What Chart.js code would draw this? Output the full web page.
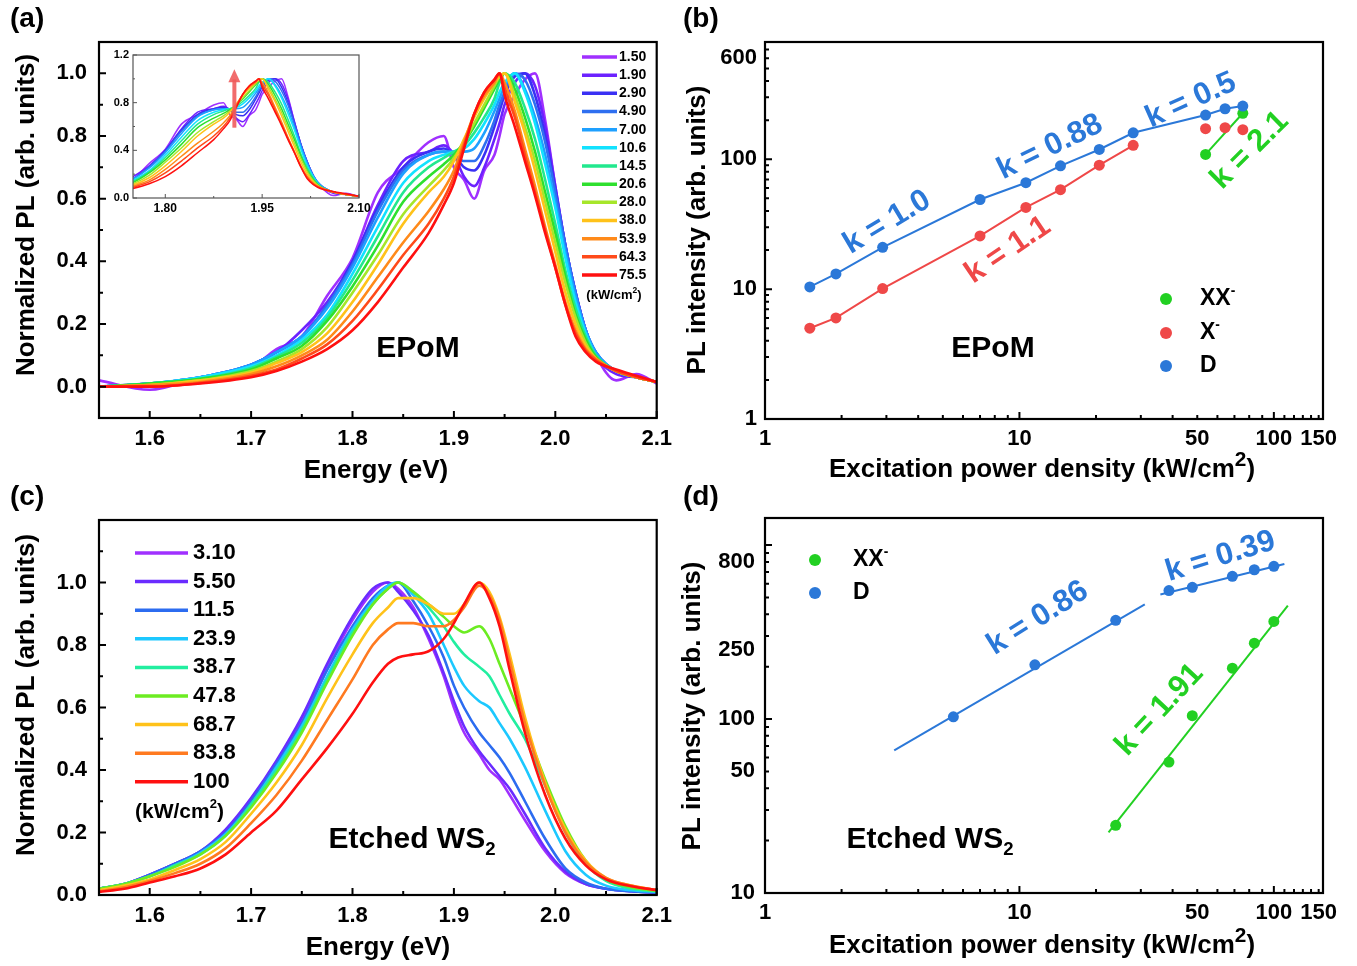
<!DOCTYPE html>
<html>
<head>
<meta charset="utf-8">
<script src="https://cdn.jsdelivr.net/npm/chart.js@4.4.1/dist/chart.umd.min.js"></script>
<style>
  body { margin: 0; background: #fff; }
  #fig { position: relative; width: 1357px; height: 966px; font-family: "Liberation Sans", Arial, sans-serif; }
  #fig canvas { position: absolute; }
  .tag { position: absolute; font-weight: bold; font-size: 28px; line-height: 30px; color: #000; }
</style>
</head>
<body>
<div id="fig">
  <canvas id="chartA" width="680" height="490" style="left:0;top:0"></canvas>
  <canvas id="chartInset" width="290" height="180" style="left:100px;top:44px"></canvas>
  <canvas id="chartB" width="677" height="490" style="left:680px;top:0"></canvas>
  <canvas id="chartC" width="680" height="476" style="left:0;top:490px"></canvas>
  <canvas id="chartD" width="677" height="476" style="left:680px;top:490px"></canvas>
  <div class="tag" style="left:10px;top:3px">(a)</div>
  <div class="tag" style="left:683px;top:3px">(b)</div>
  <div class="tag" style="left:10px;top:481px">(c)</div>
  <div class="tag" style="left:683px;top:481px">(d)</div>
</div>
<script>
const FAMILY = '"Liberation Sans", Arial, Helvetica, sans-serif'

// ---------- (a) EPoM spectra, power in kW/cm2 ----------
const energyA = [1.55, 1.60, 1.65, 1.70, 1.725, 1.75, 1.775, 1.80, 1.825, 1.85, 1.875, 1.89, 1.90, 1.91, 1.92, 1.93, 1.94, 1.945, 1.95, 1.96, 1.97, 1.98, 1.99, 2.00, 2.01, 2.02, 2.03, 2.04, 2.06, 2.08, 2.10]
const powersA = ['1.50', '1.90', '2.90', '4.90', '7.00', '10.6', '14.5', '20.6', '28.0', '38.0', '53.9', '64.3', '75.5']
const colorsA = ['#a030ff', '#6c22ff', '#3a30f4', '#2f6ff0', '#1ea0ff', '#12e2ff', '#22e88e', '#2ee02e', '#a6e62a', '#ffc21a', '#ff8a1a', '#ff4a1a', '#ff1010']

const plA_150 = [0.02, -0.01, 0.03, 0.06, 0.12, 0.16, 0.29, 0.41, 0.62, 0.70, 0.78, 0.80, 0.70, 0.66, 0.60, 0.69, 0.74, 0.80, 0.87, 0.93, 0.98, 1.00, 0.85, 0.64, 0.45, 0.30, 0.18, 0.10, 0.02, 0.04, 0.01]
const plA_190 = [0.00, 0.01, 0.02, 0.07, 0.11, 0.18, 0.27, 0.40, 0.58, 0.72, 0.75, 0.77, 0.74, 0.67, 0.64, 0.70, 0.79, 0.84, 0.90, 0.97, 1.00, 0.96, 0.83, 0.64, 0.45, 0.30, 0.18, 0.10, 0.04, 0.03, 0.015]
const plA_290 = [0.00, 0.01, 0.03, 0.07, 0.11, 0.16, 0.26, 0.40, 0.57, 0.70, 0.75, 0.76, 0.74, 0.70, 0.69, 0.74, 0.83, 0.88, 0.93, 0.99, 1.00, 0.93, 0.80, 0.63, 0.45, 0.30, 0.18, 0.11, 0.05, 0.03, 0.015]
const plA_490 = [0.00, 0.01, 0.03, 0.07, 0.11, 0.16, 0.26, 0.39, 0.56, 0.69, 0.74, 0.75, 0.74, 0.72, 0.72, 0.77, 0.85, 0.90, 0.94, 1.00, 0.98, 0.90, 0.78, 0.62, 0.45, 0.30, 0.18, 0.11, 0.05, 0.03, 0.015]
const plA_700 = [0.00, 0.01, 0.03, 0.07, 0.11, 0.16, 0.25, 0.38, 0.54, 0.68, 0.74, 0.75, 0.75, 0.75, 0.76, 0.81, 0.88, 0.92, 0.96, 1.00, 0.95, 0.86, 0.74, 0.59, 0.43, 0.29, 0.18, 0.11, 0.05, 0.03, 0.015]
const plA_106 = [0.00, 0.01, 0.03, 0.065, 0.10, 0.15, 0.23, 0.36, 0.51, 0.65, 0.72, 0.74, 0.75, 0.76, 0.79, 0.84, 0.90, 0.94, 0.97, 1.00, 0.94, 0.84, 0.71, 0.57, 0.41, 0.27, 0.17, 0.10, 0.05, 0.03, 0.015]
const plA_145 = [0.00, 0.01, 0.025, 0.06, 0.095, 0.14, 0.22, 0.34, 0.48, 0.62, 0.70, 0.73, 0.75, 0.77, 0.81, 0.86, 0.92, 0.97, 1.00, 0.97, 0.89, 0.79, 0.66, 0.52, 0.37, 0.25, 0.16, 0.10, 0.05, 0.03, 0.015]
const plA_206 = [0.00, 0.01, 0.025, 0.055, 0.09, 0.13, 0.21, 0.32, 0.45, 0.59, 0.67, 0.71, 0.74, 0.78, 0.83, 0.89, 0.95, 0.98, 1.00, 0.95, 0.86, 0.75, 0.62, 0.49, 0.35, 0.23, 0.15, 0.095, 0.05, 0.03, 0.015]
const plA_280 = [0.00, 0.005, 0.02, 0.05, 0.08, 0.12, 0.19, 0.30, 0.42, 0.55, 0.64, 0.69, 0.73, 0.78, 0.84, 0.90, 0.96, 0.99, 1.00, 0.93, 0.83, 0.72, 0.59, 0.46, 0.33, 0.22, 0.14, 0.09, 0.05, 0.03, 0.015]
const plA_380 = [0.00, 0.005, 0.02, 0.045, 0.075, 0.11, 0.17, 0.27, 0.39, 0.52, 0.62, 0.67, 0.72, 0.79, 0.86, 0.92, 0.97, 0.99, 1.00, 0.91, 0.81, 0.69, 0.56, 0.43, 0.30, 0.20, 0.13, 0.09, 0.05, 0.03, 0.015]
const plA_539 = [0.00, 0.005, 0.015, 0.04, 0.065, 0.10, 0.15, 0.24, 0.35, 0.46, 0.56, 0.63, 0.69, 0.78, 0.87, 0.93, 0.97, 1.00, 0.97, 0.88, 0.76, 0.64, 0.51, 0.39, 0.27, 0.18, 0.12, 0.09, 0.05, 0.03, 0.015]
const plA_643 = [0.00, 0.00, 0.012, 0.035, 0.055, 0.09, 0.135, 0.21, 0.31, 0.42, 0.52, 0.60, 0.67, 0.77, 0.87, 0.94, 0.98, 1.00, 0.95, 0.86, 0.74, 0.62, 0.50, 0.38, 0.26, 0.17, 0.115, 0.085, 0.05, 0.03, 0.015]
const plA_755 = [0.00, 0.00, 0.01, 0.03, 0.05, 0.08, 0.12, 0.18, 0.27, 0.38, 0.49, 0.58, 0.65, 0.76, 0.87, 0.94, 0.98, 1.00, 0.93, 0.83, 0.72, 0.61, 0.49, 0.38, 0.26, 0.16, 0.11, 0.08, 0.055, 0.035, 0.015]
const rowsA = [plA_150, plA_190, plA_290, plA_490, plA_700, plA_106, plA_145, plA_206, plA_280, plA_380, plA_539, plA_643, plA_755]

// arrow in the inset: energy, start and end intensity
const arrowInset = [1.907, 0.59, 1.08]

// ---------- (c) etched WS2 spectra ----------
const energyC = [1.55, 1.575, 1.60, 1.625, 1.65, 1.675, 1.70, 1.725, 1.75, 1.775, 1.80, 1.82, 1.835, 1.845, 1.86, 1.875, 1.89, 1.90, 1.91, 1.925, 1.935, 1.945, 1.955, 1.97, 1.99, 2.01, 2.03, 2.05, 2.075, 2.10]
const powersC = ['3.10', '5.50', '11.5', '23.9', '38.7', '47.8', '68.7', '83.8', '100']
const colorsC = ['#a030ff', '#6a2cff', '#2c6cf0', '#1cc8ff', '#22eea0', '#6cec22', '#ffc21a', '#ff7a20', '#ff1010']

const plC_310 = [0.02, 0.035, 0.065, 0.10, 0.14, 0.20, 0.30, 0.42, 0.56, 0.73, 0.88, 0.97, 1.00, 0.98, 0.92, 0.82, 0.70, 0.60, 0.52, 0.45, 0.40, 0.37, 0.32, 0.24, 0.14, 0.07, 0.035, 0.02, 0.012, 0.008]
const plC_550 = [0.02, 0.035, 0.065, 0.10, 0.14, 0.21, 0.31, 0.43, 0.57, 0.74, 0.89, 0.98, 1.00, 0.97, 0.91, 0.83, 0.71, 0.62, 0.54, 0.46, 0.42, 0.38, 0.34, 0.26, 0.15, 0.075, 0.035, 0.02, 0.012, 0.008]
const plC_115 = [0.02, 0.035, 0.065, 0.10, 0.14, 0.20, 0.30, 0.42, 0.55, 0.72, 0.86, 0.95, 0.99, 1.00, 0.94, 0.86, 0.76, 0.67, 0.60, 0.52, 0.48, 0.44, 0.39, 0.30, 0.18, 0.085, 0.04, 0.02, 0.012, 0.008]
const plC_239 = [0.02, 0.035, 0.06, 0.095, 0.135, 0.195, 0.29, 0.41, 0.54, 0.70, 0.85, 0.94, 0.99, 1.00, 0.96, 0.90, 0.80, 0.73, 0.67, 0.62, 0.60, 0.55, 0.50, 0.41, 0.27, 0.14, 0.065, 0.03, 0.015, 0.01]
const plC_387 = [0.02, 0.035, 0.06, 0.095, 0.13, 0.19, 0.29, 0.40, 0.53, 0.69, 0.84, 0.93, 0.98, 1.00, 0.97, 0.92, 0.86, 0.81, 0.77, 0.73, 0.70, 0.64, 0.58, 0.50, 0.35, 0.20, 0.10, 0.045, 0.02, 0.012]
const plC_478 = [0.02, 0.035, 0.06, 0.09, 0.13, 0.19, 0.28, 0.39, 0.52, 0.68, 0.83, 0.93, 0.98, 1.00, 0.97, 0.93, 0.89, 0.86, 0.84, 0.86, 0.82, 0.74, 0.66, 0.54, 0.37, 0.22, 0.11, 0.05, 0.025, 0.013]
const plC_687 = [0.015, 0.03, 0.05, 0.08, 0.115, 0.17, 0.26, 0.36, 0.48, 0.63, 0.77, 0.87, 0.92, 0.95, 0.95, 0.93, 0.90, 0.90, 0.93, 1.00, 0.97, 0.89, 0.77, 0.57, 0.36, 0.21, 0.11, 0.055, 0.03, 0.016]
const plC_838 = [0.012, 0.025, 0.045, 0.07, 0.10, 0.15, 0.23, 0.32, 0.43, 0.56, 0.69, 0.80, 0.85, 0.87, 0.87, 0.86, 0.86, 0.88, 0.92, 0.99, 0.96, 0.88, 0.75, 0.55, 0.35, 0.20, 0.105, 0.055, 0.03, 0.016]
const plC_100 = [0.01, 0.02, 0.04, 0.06, 0.085, 0.13, 0.20, 0.27, 0.37, 0.47, 0.58, 0.68, 0.74, 0.76, 0.77, 0.78, 0.82, 0.87, 0.93, 1.00, 0.95, 0.86, 0.72, 0.52, 0.32, 0.18, 0.095, 0.05, 0.028, 0.016]
const rowsC = [plC_310, plC_550, plC_115, plC_239, plC_387, plC_478, plC_687, plC_838, plC_100]

// ---------- (b) EPoM integrated intensity vs power ----------
const powerB = [1.5, 1.9, 2.9, 7.0, 10.6, 14.5, 20.6, 28.0, 53.9, 64.3, 75.5]
const intensityB_D = [10.4, 13.1, 21, 49, 66, 89, 119, 160, 219, 245, 257]
const intensityB_X = [5.0, 6.0, 10.1, 25.7, 42.6, 58.3, 90, 128, 172, 175, 169]
const powerB_XX = [53.9, 75.5]
const intensityB_XX = [109, 226]

// ---------- (d) etched WS2 integrated intensity vs power ----------
const powerD_D = [5.5, 11.5, 23.9, 38.7, 47.8, 68.7, 83.8, 100]
const intensityD_D = [103, 205, 369, 547, 571, 661, 721, 754]
const powerD_XX = [23.9, 38.7, 47.8, 68.7, 83.8, 100]
const intensityD_XX = [24.5, 56.6, 104.5, 196, 273, 364]
// power-law fit lines, end points [x0, x1], [y0, y1]
const fitD_lowX = [3.22, 31.1], fitD_lowY = [66, 456]
const fitD_highX = [35.8, 110], fitD_highY = [519, 778]
const fitXX_X = [22.4, 113.5], fitXX_Y = [22.3, 448]

// axis ticks
const energyTicks = [1.6, 1.7, 1.8, 1.9, 2.0, 2.1]
const energyMinor = [1.65, 1.75, 1.85, 1.95, 2.05]
const plTicksA = [0, 0.2, 0.4, 0.6, 0.8, 1.0]
const plMinorA = [0.1, 0.3, 0.5, 0.7, 0.9]
const plMinorC = [0.1, 0.3, 0.5, 0.7, 0.9, 1.1]
const insetXTicks = [1.80, 1.95, 2.10]
const insetXMinor = [1.875, 2.025]
const insetYTicks = [0, 0.4, 0.8, 1.2]
const insetYMinor = [0.2, 0.6, 1.0]
const powerLabels = [1, 10, 50, 100, 150]
const powerMajor = [1, 10, 100]
const powerMinor = [2, 3, 4, 5, 6, 7, 8, 9, 20, 30, 40, 50, 60, 70, 80, 90, 110, 120, 130, 140, 150]
const intensityLabelsB = [1, 10, 100, 600]
const intensityMinorB = [2, 3, 4, 5, 6, 7, 8, 9, 20, 30, 40, 50, 60, 70, 80, 90, 200, 300, 400, 500, 600, 700]
const intensityLabelsD = [10, 50, 100, 250, 800]
const intensityMinorD = [20, 30, 40, 50, 60, 70, 80, 90, 200, 300, 400, 500, 600, 700, 800, 900]

const BLUE = '#2b78d8'
const RED = '#ef4848'
const GREEN = '#22d022'

function font(size, weight = 'bold') {
  return weight + ' ' + size + 'px ' + FAMILY
}

// text made of pieces, each [text, 'sup' | 'sub' | undefined]
function richText(ctx, parts, x, y, size, opt = {}) {
  const align = opt.align || 'center'
  const small = opt.small || 0.62
  ctx.save()
  ctx.translate(x, y)
  ctx.rotate((opt.angle || 0) * Math.PI / 180)
  ctx.fillStyle = opt.color || '#000'
  ctx.textBaseline = 'middle'
  ctx.textAlign = 'left'
  const sizes = parts.map(p => p[1] ? size * (p[2] || small) : size)
  const widths = parts.map((p, i) => {
    ctx.font = font(sizes[i])
    return ctx.measureText(p[0]).width
  })
  const total = widths.reduce((a, b) => a + b, 0)
  let cx = align === 'center' ? -total / 2 : align === 'right' ? -total : 0
  parts.forEach((p, i) => {
    ctx.font = font(sizes[i])
    let dy = 0
    if (p[1] === 'sup') dy = -size * 0.36
    if (p[1] === 'sub') dy = size * 0.32
    ctx.fillText(p[0], cx, dy)
    cx += widths[i]
  })
  ctx.restore()
}

function axis(dir, type, min, max, labels, fmt, boxSize, pad, fontSize = 22) {
  return {
    type,
    min,
    max,
    position: dir === 'x' ? 'bottom' : 'left',
    grid: { display: false, drawTicks: false },
    border: { display: false },
    afterBuildTicks: s => { s.ticks = labels.map(v => ({ value: v })) },
    afterFit: s => {
      if (dir === 'x') s.height = boxSize
      else s.width = boxSize
    },
    ticks: {
      autoSkip: false,
      maxRotation: 0,
      minRotation: 0,
      padding: pad,
      color: '#000',
      font: { family: FAMILY, size: fontSize, weight: 'bold' },
      callback: fmt
    }
  }
}

// box around the plot area with inward tick marks
function framePlugin(t) {
  return {
    id: 'frame',
    afterDatasetsDraw(chart) {
      const { ctx, chartArea: a } = chart
      const sx = chart.scales.x
      const sy = chart.scales.y
      ctx.save()
      ctx.strokeStyle = t.color
      ctx.lineWidth = t.tickWidth
      ctx.beginPath()
      const markX = (list, len) => list.forEach(v => {
        const p = sx.getPixelForValue(v)
        if (p < a.left - 0.5 || p > a.right + 0.5) return
        ctx.moveTo(p, a.bottom)
        ctx.lineTo(p, a.bottom - len)
      })
      const markY = (list, len) => list.forEach(v => {
        const p = sy.getPixelForValue(v)
        if (p < a.top - 0.5 || p > a.bottom + 0.5) return
        ctx.moveTo(a.left, p)
        ctx.lineTo(a.left + len, p)
      })
      markX(t.xMajor, t.major)
      markX(t.xMinor, t.minor)
      markY(t.yMajor, t.major)
      markY(t.yMinor, t.minor)
      ctx.stroke()
      ctx.lineWidth = t.width
      ctx.strokeRect(a.left, a.top, a.right - a.left, a.bottom - a.top)
      ctx.restore()
    }
  }
}

function spectra(energy, rows, colors, width) {
  return rows.map((row, i) => ({
    data: row.map((v, j) => ({ x: energy[j], y: v })),
    borderColor: colors[i],
    borderWidth: width,
    pointRadius: 0,
    fill: false,
    cubicInterpolationMode: 'monotone',
    order: rows.length - 1 - i
  }))
}

function points(xs, ys) {
  return xs.map((x, i) => ({ x, y: ys[i] }))
}

const base = {
  responsive: false,
  animation: false,
  devicePixelRatio: 1,
  events: [],
  plugins: { legend: { display: false }, tooltip: { enabled: false } }
}

const fmt1 = v => Number(v).toFixed(1)
const fmtN = v => String(v)

// ---------- panel (a) ----------
new Chart(document.getElementById('chartA'), {
  type: 'line',
  data: { datasets: spectra(energyA, rowsA, colorsA, 2.6) },
  options: {
    ...base,
    layout: { padding: { left: 0, top: 42, right: 23, bottom: 0 } },
    scales: {
      x: axis('x', 'linear', 1.55, 2.1, energyTicks, fmt1, 72, 8),
      y: axis('y', 'linear', -0.1, 1.1, plTicksA, fmt1, 99, 12)
    }
  },
  plugins: [
    framePlugin({ color: '#000', width: 2.2, tickWidth: 2, major: 7, minor: 4, xMajor: energyTicks, xMinor: energyMinor, yMajor: plTicksA, yMinor: plMinorA }),
    {
      id: 'decorA',
      afterDraw(chart) {
        const ctx = chart.ctx
        richText(ctx, [['Normalized PL (arb. units)']], 27, 215, 26, { angle: -90 })
        richText(ctx, [['Energy (eV)']], 376, 471, 26)
        richText(ctx, [['EPoM']], 418, 349, 30)
        ctx.save()
        ctx.lineWidth = 3.5
        powersA.forEach((p, i) => {
          const y = 57 + i * 18.17
          ctx.strokeStyle = colorsA[i]
          ctx.beginPath()
          ctx.moveTo(582, y)
          ctx.lineTo(617, y)
          ctx.stroke()
          richText(ctx, [[p]], 619, y, 14, { align: 'left' })
        })
        ctx.restore()
        richText(ctx, [['(kW/cm'], ['2', 'sup', 0.65], [')']], 614, 295, 13)
      }
    }
  ]
})

// ---------- inset of panel (a) ----------
new Chart(document.getElementById('chartInset'), {
  type: 'line',
  data: { datasets: spectra(energyA, rowsA, colorsA, 1.5) },
  options: {
    ...base,
    layout: { padding: { left: 0, top: 11, right: 31, bottom: 0 } },
    scales: {
      x: axis('x', 'linear', 1.75, 2.10, insetXTicks, v => Number(v).toFixed(2), 26, 3, 12),
      y: axis('y', 'linear', 0, 1.2, insetYTicks, fmt1, 33, 4, 11)
    }
  },
  plugins: [
    {
      id: 'paper',
      beforeDatasetsDraw(chart) {
        const { ctx, chartArea: a } = chart
        ctx.save()
        ctx.fillStyle = '#fff'
        ctx.fillRect(a.left, a.top, a.right - a.left, a.bottom - a.top)
        ctx.restore()
      }
    },
    framePlugin({ color: '#555', width: 1.2, tickWidth: 1, major: 4, minor: 2, xMajor: insetXTicks, xMinor: insetXMinor, yMajor: insetYTicks, yMinor: insetYMinor }),
    {
      id: 'arrow',
      afterDatasetsDraw(chart) {
        const { ctx, scales: { x, y } } = chart
        const px = x.getPixelForValue(arrowInset[0])
        const y0 = y.getPixelForValue(arrowInset[1])
        const y1 = y.getPixelForValue(arrowInset[2])
        ctx.save()
        ctx.fillStyle = 'rgba(240, 92, 92, 0.9)'
        ctx.fillRect(px - 2, y1 + 10, 4, y0 - y1 - 10)
        ctx.beginPath()
        ctx.moveTo(px, y1)
        ctx.lineTo(px - 6, y1 + 13)
        ctx.lineTo(px + 6, y1 + 13)
        ctx.closePath()
        ctx.fill()
        ctx.restore()
      }
    }
  ]
})

// ---------- panel (b) ----------
new Chart(document.getElementById('chartB'), {
  type: 'line',
  data: {
    datasets: [
      {
        data: points(powerB, intensityB_D),
        borderColor: BLUE, backgroundColor: BLUE, borderWidth: 2,
        pointRadius: 5.5, pointBorderWidth: 0
      },
      {
        data: points(powerB, intensityB_X),
        borderColor: RED, backgroundColor: RED, borderWidth: 2,
        pointRadius: 5.5, pointBorderWidth: 0,
        segment: { borderColor: c => c.p0DataIndex >= 7 ? 'rgba(0,0,0,0)' : RED }
      },
      {
        data: points(powerB_XX, intensityB_XX),
        borderColor: GREEN, backgroundColor: GREEN, borderWidth: 2,
        pointRadius: 5.5, pointBorderWidth: 0
      }
    ]
  },
  options: {
    ...base,
    layout: { padding: { left: 0, top: 42, right: 34, bottom: 0 } },
    scales: {
      x: axis('x', 'logarithmic', 1, 156, powerLabels, fmtN, 71, 7),
      y: axis('y', 'logarithmic', 1, 800, intensityLabelsB, fmtN, 85, 8)
    }
  },
  plugins: [
    framePlugin({ color: '#000', width: 2.2, tickWidth: 2, major: 7, minor: 4, xMajor: powerMajor, xMinor: powerMinor, yMajor: [1, 10, 100], yMinor: intensityMinorB }),
    {
      id: 'decorB',
      afterDraw(chart) {
        const { ctx, scales: { x, y } } = chart
        const at = (vx, vy) => [x.getPixelForValue(vx), y.getPixelForValue(vy)]
        richText(ctx, [['PL intensity (arb. units)']], 18, 230, 26, { angle: -90 })
        richText(ctx, [['Excitation power density (kW/cm'], ['2', 'sup', 0.8], [')']], 362, 470, 26)
        richText(ctx, [['EPoM']], 313, 349, 30)
        richText(ctx, [['k = 1.0']], ...at(3.02, 32.7), 31, { angle: -31, color: BLUE })
        richText(ctx, [['k = 0.88']], ...at(13.2, 124), 31, { angle: -26, color: BLUE })
        richText(ctx, [['k = 0.5']], ...at(47.2, 284), 31, { angle: -24, color: BLUE })
        richText(ctx, [['k = 1.1']], ...at(9.0, 20), 31, { angle: -34, color: RED })
        richText(ctx, [['k = 2.1']], ...at(80.5, 117), 31, { angle: -45, color: GREEN })
        const legend = [[GREEN, [['XX'], ['-', 'sup', 0.6]]], [RED, [['X'], ['-', 'sup', 0.6]]], [BLUE, [['D']]]]
        legend.forEach((row, i) => {
          const yy = [299, 333, 366][i]
          ctx.fillStyle = row[0]
          ctx.beginPath()
          ctx.arc(486, yy, 6, 0, Math.PI * 2)
          ctx.fill()
          richText(ctx, row[1], 520, yy, 23, { align: 'left' })
        })
      }
    }
  ]
})

// ---------- panel (c) ----------
new Chart(document.getElementById('chartC'), {
  type: 'line',
  data: { datasets: spectra(energyC, rowsC, colorsC, 2.6) },
  options: {
    ...base,
    layout: { padding: { left: 0, top: 30, right: 23, bottom: 0 } },
    scales: {
      x: axis('x', 'linear', 1.55, 2.1, energyTicks, fmt1, 71, 8),
      y: axis('y', 'linear', 0, 1.2, plTicksA, fmt1, 99, 12)
    }
  },
  plugins: [
    framePlugin({ color: '#000', width: 2.2, tickWidth: 2, major: 7, minor: 4, xMajor: energyTicks, xMinor: energyMinor, yMajor: plTicksA, yMinor: plMinorC }),
    {
      id: 'decorC',
      afterDraw(chart) {
        const ctx = chart.ctx
        richText(ctx, [['Normalized PL (arb. units)']], 27, 205, 26, { angle: -90 })
        richText(ctx, [['Energy (eV)']], 378, 458, 26)
        richText(ctx, [['Etched WS'], ['2', 'sub', 0.62]], 412, 350, 30)
        ctx.save()
        ctx.lineWidth = 3.5
        powersC.forEach((p, i) => {
          const y = 63 + i * 28.6
          ctx.strokeStyle = colorsC[i]
          ctx.beginPath()
          ctx.moveTo(135, y)
          ctx.lineTo(188, y)
          ctx.stroke()
          richText(ctx, [[p]], 193, y, 22, { align: 'left' })
        })
        ctx.restore()
        richText(ctx, [['(kW/cm'], ['2', 'sup', 0.62], [')']], 135, 322, 21, { align: 'left' })
      }
    }
  ]
})

// ---------- panel (d) ----------
new Chart(document.getElementById('chartD'), {
  type: 'line',
  data: {
    datasets: [
      { data: points(fitD_lowX, fitD_lowY), borderColor: BLUE, borderWidth: 2, pointRadius: 0 },
      { data: points(fitD_highX, fitD_highY), borderColor: BLUE, borderWidth: 2, pointRadius: 0 },
      { data: points(fitXX_X, fitXX_Y), borderColor: GREEN, borderWidth: 2, pointRadius: 0 },
      {
        data: points(powerD_D, intensityD_D), showLine: false,
        backgroundColor: BLUE, borderColor: BLUE, pointRadius: 5.5, pointBorderWidth: 0
      },
      {
        data: points(powerD_XX, intensityD_XX), showLine: false,
        backgroundColor: GREEN, borderColor: GREEN, pointRadius: 5.5, pointBorderWidth: 0
      }
    ]
  },
  options: {
    ...base,
    layout: { padding: { left: 0, top: 28, right: 34, bottom: 0 } },
    scales: {
      x: axis('x', 'logarithmic', 1, 156, powerLabels, fmtN, 73, 7),
      y: axis('y', 'logarithmic', 10, 1430, intensityLabelsD, fmtN, 85, 10)
    }
  },
  plugins: [
    framePlugin({ color: '#000', width: 2.2, tickWidth: 2, major: 7, minor: 4, xMajor: powerMajor, xMinor: powerMinor, yMajor: [10, 100, 1000], yMinor: intensityMinorD }),
    {
      id: 'decorD',
      afterDraw(chart) {
        const { ctx, scales: { x, y } } = chart
        const at = (vx, vy) => [x.getPixelForValue(vx), y.getPixelForValue(vy)]
        richText(ctx, [['PL intensity (arb. units)']], 13, 216, 26, { angle: -90 })
        richText(ctx, [['Excitation power density (kW/cm'], ['2', 'sup', 0.8], [')']], 362, 456, 26)
        richText(ctx, [['Etched WS'], ['2', 'sub', 0.62]], 250, 350, 30)
        richText(ctx, [['k = 0.86']], ...at(11.8, 379), 31, { angle: -32, color: BLUE })
        richText(ctx, [['k = 0.39']], ...at(61.7, 857), 31, { angle: -17, color: BLUE })
        richText(ctx, [['k = 1.91']], ...at(35.5, 113), 31, { angle: -47, color: GREEN })
        const legend = [[GREEN, [['XX'], ['-', 'sup', 0.6]]], [BLUE, [['D']]]]
        legend.forEach((row, i) => {
          const yy = [70, 103][i]
          ctx.fillStyle = row[0]
          ctx.beginPath()
          ctx.arc(135, yy, 6, 0, Math.PI * 2)
          ctx.fill()
          richText(ctx, row[1], 173, yy, 23, { align: 'left' })
        })
      }
    }
  ]
})
</script>
</body>
</html>
